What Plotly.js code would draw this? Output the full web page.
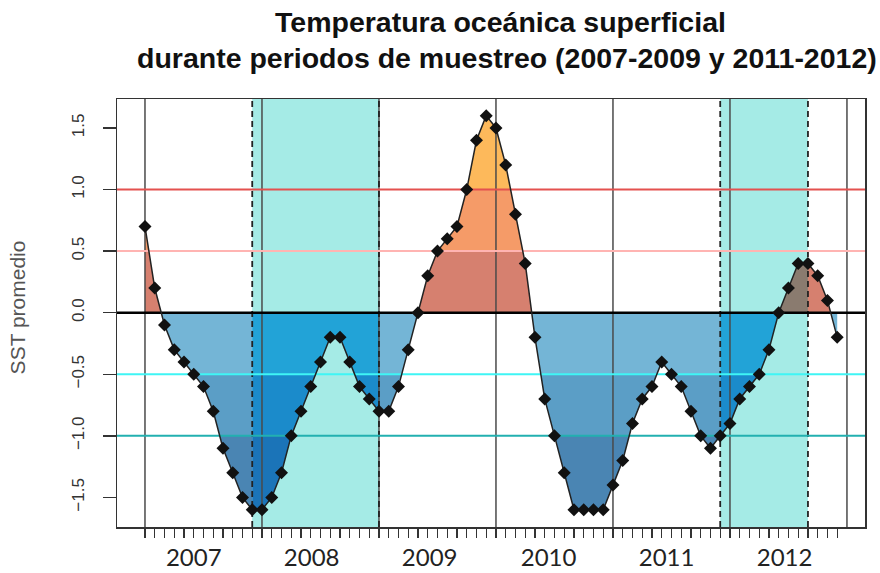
<!DOCTYPE html>
<html><head><meta charset="utf-8">
<script src="https://cdn.plot.ly/plotly-3.0.1.min.js"></script>
<style>body{margin:0;background:#fff}#chart{width:880px;height:573px}</style>
</head><body><div id="chart"></div>
<script>
// Monthly mean SST anomaly (one value per month)
const sst = [0.7, 0.2, -0.1, -0.3, -0.4, -0.5, -0.6, -0.8, -1.1, -1.3, -1.5, -1.6,
  -1.6, -1.5, -1.3, -1.0, -0.8, -0.6, -0.4, -0.2, -0.2, -0.4, -0.6, -0.7,
  -0.8, -0.8, -0.6, -0.3, 0.0, 0.3, 0.5, 0.6, 0.7, 1.0, 1.4, 1.6,
  1.5, 1.2, 0.8, 0.4, -0.2, -0.7, -1.0, -1.3, -1.6, -1.6, -1.6, -1.6,
  -1.4, -1.2, -0.9, -0.7, -0.6, -0.4, -0.5, -0.6, -0.8, -1.0, -1.1, -1.0,
  -0.9, -0.7, -0.6, -0.5, -0.3, 0.0, 0.2, 0.4, 0.4, 0.3, 0.1, -0.2];
const months = sst.map((_, i) => i);
const years = ['2007', '2008', '2009', '2010', '2011', '2012'];
const yearPos = [5.0, 17.1, 29.2, 41.4, 53.5, 65.6];
const samplingPeriods = [[11, 24], [59, 68]];
const yearLines = [0, 12, 24, 36, 48, 60, 72];
const thresholds = [1.0, 0.5, 0, -0.5, -1.0];
const thresholdColors = ['#e4514f', '#ffb4b2', '#000000', '#3ff5f5', '#22b0b0'];
const thresholdWidths = [2, 2, 2.6, 2, 2];
const yTicks = [-1.5, -1.0, -0.5, 0, 0.5, 1.0, 1.5];
const xRange = [-2.87, 73.85];
const yRange = [-1.74, 1.735];

const bands = [
  {lo: 1.0, hi: 9, out: '#fdb95b', inn: '#b3a35a'},
  {lo: 0.5, hi: 1.0, out: '#f59b68', inn: '#a68a66'},
  {lo: 0, hi: 0.5, out: '#d6806f', inn: '#8a7b6f'},
  {lo: -0.5, hi: 0, out: '#74b5d6', inn: '#22a3d7'},
  {lo: -1.0, hi: -0.5, out: '#5b9ec6', inn: '#1b8bcb'},
  {lo: -9, hi: -1.0, out: '#4a85b3', inn: '#1b74b8'}
];

function bandPoly(x0, x1, lo, hi) {
  const base = lo >= 0 ? lo : hi;
  const clamp = v => Math.min(hi, Math.max(lo, v));
  const pts = [];
  for (let i = x0; i < x1; i++) {
    const a = sst[i], b = sst[i + 1];
    pts.push([i, clamp(a)]);
    const cuts = [];
    [lo, hi].forEach(L => { if ((a - L) * (b - L) < 0) cuts.push((L - a) / (b - a)); });
    cuts.sort((p, q) => p - q).forEach(t => pts.push([i + t, clamp(a + (b - a) * t)]));
  }
  pts.push([x1, clamp(sst[x1])]);
  if (!pts.some(p => Math.abs(p[1] - base) > 1e-9)) return null;
  return {
    x: pts.map(p => p[0]).concat([x1, x0]),
    y: pts.map(p => p[1]).concat([base, base])
  };
}

// segments split by sampling periods
const cutsX = [0, sst.length - 1];
samplingPeriods.forEach(p => cutsX.push(p[0], p[1]));
const bp = Array.from(new Set(cutsX)).sort((a, b) => a - b);
const segs = [];
for (let k = 0; k < bp.length - 1; k++) {
  const a = bp[k], b = bp[k + 1];
  const inside = samplingPeriods.some(p => a >= p[0] && b <= p[1]);
  segs.push({a, b, inside});
}

const traces = [];
segs.forEach(s => {
  bands.forEach(bd => {
    const poly = bandPoly(s.a, s.b, bd.lo, bd.hi);
    if (!poly) return;
    traces.push({
      x: poly.x, y: poly.y, type: 'scatter', mode: 'lines', fill: 'toself',
      fillcolor: s.inside ? bd.inn : bd.out, line: {width: 0, color: 'rgba(0,0,0,0)'},
      hoverinfo: 'skip', showlegend: false
    });
  });
});

// vertical year lines
yearLines.forEach(v => traces.push({
  x: [v, v], y: yRange, type: 'scatter', mode: 'lines',
  line: {color: '#4a4a4a', width: 1.5}, hoverinfo: 'skip', showlegend: false
}));
// dashed period limits
samplingPeriods.forEach(p => p.forEach(v => traces.push({
  x: [v, v], y: yRange, type: 'scatter', mode: 'lines',
  line: {color: '#222', width: 1.8, dash: '6px,4px'}, hoverinfo: 'skip', showlegend: false
})));
// threshold lines
thresholds.forEach((t, i) => traces.push({
  x: xRange, y: [t, t], type: 'scatter', mode: 'lines',
  line: {color: thresholdColors[i], width: thresholdWidths[i]}, hoverinfo: 'skip', showlegend: false
}));
// curve
traces.push({
  x: months, y: sst, type: 'scatter', mode: 'lines+markers',
  line: {color: '#222', width: 1.5},
  marker: {symbol: 'diamond', size: 10, color: '#111'},
  showlegend: false
});
// invisible trace to carry monthly ticks axis
traces.push({
  x: months, y: sst, xaxis: 'x2', type: 'scatter', mode: 'markers',
  marker: {opacity: 0}, hoverinfo: 'skip', showlegend: false
});

const shapes = samplingPeriods.map(p => ({
  type: 'rect', xref: 'x', yref: 'paper', x0: p[0], x1: p[1], y0: 0, y1: 1,
  fillcolor: '#a5ebe6', line: {width: 0}, layer: 'below'
}));

const layout = {
  width: 880, height: 573,
  margin: {l: 117, r: 15, t: 99, b: 46},
  paper_bgcolor: '#fff', plot_bgcolor: '#fff',
  showlegend: false,
  shapes: shapes,
  xaxis: {
    range: xRange, tickvals: yearPos, ticktext: years, ticks: '',
    showline: true, mirror: true, linecolor: '#333', linewidth: 1.5,
    showgrid: false, zeroline: false, ticklabelstandoff: 9,
    tickfont: {family: 'Lato, Carlito, sans-serif', size: 24, color: '#222'}
  },
  xaxis2: {
    overlaying: 'x', side: 'bottom', range: xRange, tickvals: months,
    ticks: 'outside', ticklen: 10, tickwidth: 1.4, tickcolor: '#333',
    showticklabels: false, showline: false, showgrid: false, zeroline: false
  },
  yaxis: {
    range: yRange, tickvals: yTicks, tickformat: '.1f', ticks: 'outside',
    ticklen: 13, tickwidth: 1.5, tickcolor: '#333', tickangle: -90,
    ticklabelstandoff: 12,
    showline: true, mirror: true, linecolor: '#333', linewidth: 1.5,
    showgrid: false, zeroline: false,
    tickfont: {family: 'Liberation Sans, Arial, sans-serif', size: 17, color: '#333'}
  },
  annotations: [
    {text: '<b>Temperatura oceánica superficial</b>', xref: 'paper', yref: 'paper',
     x: 0.513, y: 1.18, xanchor: 'center', yanchor: 'middle', showarrow: false,
     font: {family: 'Liberation Sans, Arial, sans-serif', size: 28.5, color: '#111'}},
    {text: '<b>durante periodos de muestreo (2007-2009 y 2011-2012)</b>', xref: 'paper', yref: 'paper',
     x: 0.522, y: 1.096, xanchor: 'center', yanchor: 'middle', showarrow: false,
     font: {family: 'Liberation Sans, Arial, sans-serif', size: 28.5, color: '#111'}},
    {text: 'SST promedio', xref: 'paper', yref: 'paper', x: -0.133, y: 0.512,
     xanchor: 'center', yanchor: 'middle', textangle: -90, showarrow: false,
     font: {family: 'Liberation Sans, Arial, sans-serif', size: 21, color: '#555'}}
  ]
};

Plotly.newPlot('chart', traces, layout, {staticPlot: true});
</script>
</body></html>
